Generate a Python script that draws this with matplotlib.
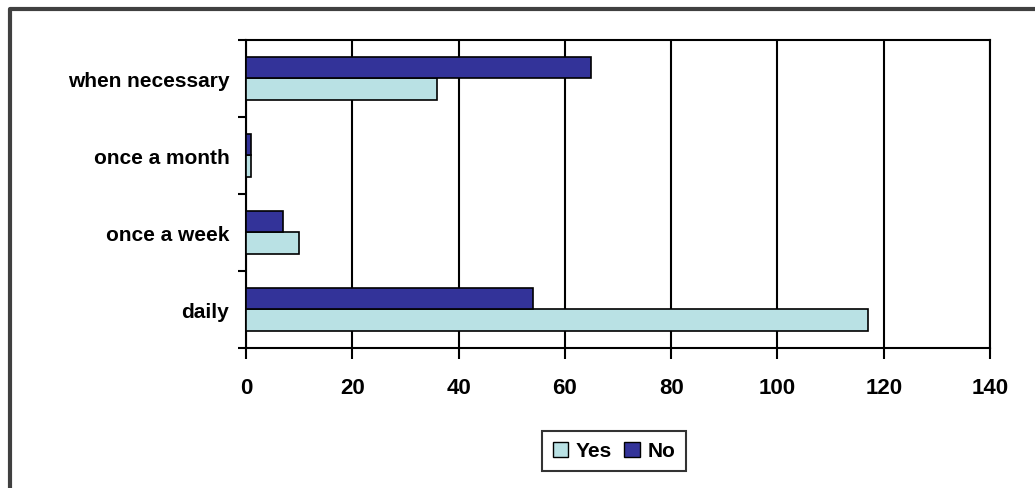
import numpy as np
import matplotlib.pyplot as plt
from matplotlib.lines import Line2D
from matplotlib.patches import Patch

# data
categories = ['daily', 'once a week', 'once a month', 'when necessary']
yes_values = [117, 10, 1, 36]
no_values = [54, 7, 1, 65]
x_ticks = [0, 20, 40, 60, 80, 100, 120, 140]

plt.rcParams['font.family'] = ['Liberation Sans', 'DejaVu Sans']
plt.rcParams['font.weight'] = 'bold'

yes_color = '#B9E1E4'
no_color = '#333399'

fig = plt.figure(figsize=(10.35, 4.89), dpi=100)
ax = fig.add_axes([0.2377, 0.2863, 0.7188, 0.6299])

y = np.arange(len(categories))
h = 0.28
ax.barh(y - h / 2, yes_values, height=h, color=yes_color, edgecolor='black', linewidth=1.2, label='Yes', zorder=3)
ax.barh(y + h / 2, no_values, height=h, color=no_color, edgecolor='black', linewidth=1.2, label='No', zorder=3)

ax.set_xlim(0, 140)
ax.set_ylim(-0.5, len(categories) - 0.5)
ax.set_xticks(x_ticks)
ax.set_xticklabels([str(v) for v in x_ticks], fontsize=16, fontweight='bold')
ax.set_yticks(y)
ax.set_yticklabels(categories, fontsize=15, fontweight='bold')
ax.set_yticks(np.arange(-0.5, len(categories), 1.0), minor=True)

ax.tick_params(axis='x', direction='out', length=8, width=1.5, pad=13)
ax.tick_params(axis='y', which='major', length=0, pad=12)
ax.tick_params(axis='y', which='minor', direction='out', length=6, width=1.5)
ax.xaxis.grid(True, color='black', linewidth=1.5, zorder=0)
ax.set_axisbelow(True)
for sp in ax.spines.values():
    sp.set_linewidth(1.5)
    sp.set_color('black')

handles = [Patch(facecolor=yes_color, edgecolor='black', label='Yes'),
           Patch(facecolor=no_color, edgecolor='black', label='No')]
leg = fig.legend(handles=handles, loc='center', bbox_to_anchor=(614 / 1035, 1 - 452 / 489),
                 ncol=2, frameon=True, fancybox=False, edgecolor='black',
                 prop={'size': 15, 'weight': 'bold'}, handlelength=0.75, handleheight=0.75,
                 handletextpad=0.35, columnspacing=0.6, borderpad=0.5, borderaxespad=0)
leg.get_frame().set_linewidth(1.5)

# outer chart-area frame (only left and top edges are visible in the crop)
fig.add_artist(Line2D([10 / 1035, 10 / 1035, 1.0], [0.0, 1 - 10 / 489, 1 - 10 / 489],
                      transform=fig.transFigure, color='#404040', linewidth=3))

fig.savefig('out.png', dpi=100)
